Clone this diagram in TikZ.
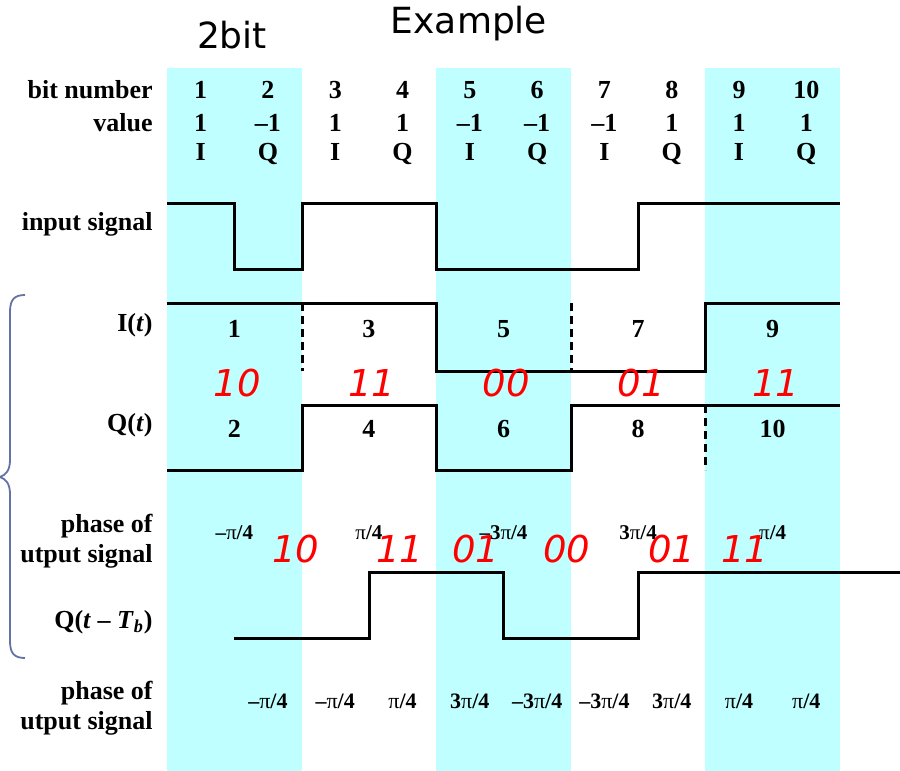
\documentclass[tikz,border=0pt]{standalone}
\usepackage{fontspec}
\setmainfont{Liberation Serif}
\newfontfamily\titlefont{DejaVu Sans}
\newfontfamily\redfont{DejaVu Sans}
\usetikzlibrary{positioning}
\definecolor{bandcyan}{RGB}{191,255,255}
\definecolor{bracecol}{RGB}{100,115,165}
\newcommand{\pifour}{{\mdseries π}/4}
\begin{document}
\begin{tikzpicture}[x=0.5pt,y=-0.5pt,
  lbl/.style={font=\fontsize{13}{15}\selectfont\bfseries, anchor=base east, inner sep=0pt},
  num/.style={font=\fontsize{13}{15}\selectfont\bfseries, anchor=base, inner sep=0pt},
  phase/.style={font=\fontsize{10.5}{12}\selectfont\bfseries, anchor=base, inner sep=0pt},
  bits/.style={font=\redfont\itshape\fontsize{18.5}{20}\selectfont, text=red, inner sep=0pt},
  sig/.style={line width=1.5pt, line join=miter},
  gap/.style={line width=1.5pt, dash pattern=on 4pt off 2.5pt}]
\useasboundingbox (0,0) rectangle (900,771);

% shaded bit pairs
\foreach \xa in {167,436,705}
  \fill[bandcyan] (\xa,68) rectangle ++(135,703);

% titles
\node[font=\titlefont\fontsize{18}{20}\selectfont, anchor=base] (twobit) at (232,48) {2bit};
\node[font=\titlefont\fontsize{18}{20}\selectfont, anchor=base] (example) at (469,33) {Example};

% header rows
\node[lbl] (bitlbl) at (153,98) {bit number};
\node[lbl] (vallbl) at (153,131) {value};
\foreach \v [count=\i] in {1,–1,1,1,–1,–1,–1,1,1,1} {
  \pgfmathsetmacro\xc{167+67.3*(\i-0.5)}
  \node[num] (bit\i) at (\xc,98) {\i};
  \node[num] (val\i) at (\xc,131) {\v};
}
\foreach \i in {1,3,5,7,9} {
  \pgfmathsetmacro\xc{167+67.3*(\i-0.5)}
  \pgfmathsetmacro\xd{167+67.3*(\i+0.5)}
  \node[num] (chI\i) at (\xc,160) {I};
  \node[num] (chQ\i) at (\xd,160) {Q};
}

% row labels
\node[lbl] (inlbl) at (153,230) {input signal};
\node[lbl] (ilbl) at (153,331) {I(\textit{t})};
\node[lbl] (qlbl) at (153,431) {Q(\textit{t})};
\node[lbl] (ph1a) at (153,532) {phase of};
\node[lbl] (ph1b) at (153,562) {utput signal};
\node[lbl] (qdlbl) at (153,628) {Q(\textit{t} – \textit{T}\textsubscript{\textit{b}})};
\node[lbl] (ph2a) at (153,699) {phase of};
\node[lbl] (ph2b) at (153,729) {utput signal};

% brace
\draw[bracecol, line width=0.9pt] (25,295) .. controls (14,295) and (10,300) .. (10,312)
  -- (10,460) .. controls (10,470) and (6,475) .. (0,477)
  .. controls (6,479) and (10,484) .. (10,494)
  -- (10,641) .. controls (10,653) and (14,658) .. (25,658);

% input signal
\draw[sig] (167,203) -- (234,203) -- (234,269) -- (302,269) -- (302,203) -- (436,203)
  -- (436,269) -- (638,269) -- (638,203) -- (840,203);

% I(t) and Q(t)
\draw[sig] (167,303) -- (436,303) -- (436,371) -- (705,371) -- (705,303) -- (840,303);
\draw[gap] (302,303) -- (302,371);
\draw[gap] (571,303) -- (571,371);
\draw[sig] (167,470) -- (302,470) -- (302,405) -- (436,405) -- (436,470) -- (571,470)
  -- (571,405) -- (840,405);
\draw[gap] (705,405) -- (705,470);
\foreach \i in {1,...,5} {
  \pgfmathsetmacro\xc{167+134.6*(\i-0.5)}
  \pgfmathtruncatemacro\nI{2*\i-1}
  \pgfmathtruncatemacro\nQ{2*\i}
  \node[num] (in\i) at (\xc,337) {\nI};
  \node[num] (qn\i) at (\xc,437) {\nQ};
}

% symbol pairs
\foreach \t [count=\i] in {10,11,00,01,11} {
  \pgfmathsetmacro\xc{170+134.6*(\i-0.5)}
  \node[bits] (pair\i) at (\xc,383) {\t};
}

% phase of output signal (upper)
\foreach \p [count=\i] in {–\pifour,\pifour,–3\pifour,3\pifour,\pifour} {
  \pgfmathsetmacro\xc{167+134.6*(\i-0.5)}
  \node[phase] (phu\i) at (\xc,539) {\p};
}
\foreach \x/\t [count=\i] in {296/10,400/11,476/01,567/00,672/01,745/11}
  \node[bits] (dpair\i) at (\x,549) {\t};

% delayed Q
\draw[sig] (234,638) -- (369,638) -- (369,572) -- (503,572) -- (503,638) -- (638,638)
  -- (638,572) -- (900,572);

% phase of output signal (lower)
\foreach \p [count=\i] in {–\pifour,–\pifour,\pifour,3\pifour,–3\pifour,–3\pifour,3\pifour,\pifour,\pifour} {
  \pgfmathsetmacro\xc{167+67.3*(\i+0.5)}
  \node[phase, font=\fontsize{11}{13}\selectfont\bfseries] (phl\i) at (\xc,708) {\p};
}

\end{tikzpicture}
\end{document}
